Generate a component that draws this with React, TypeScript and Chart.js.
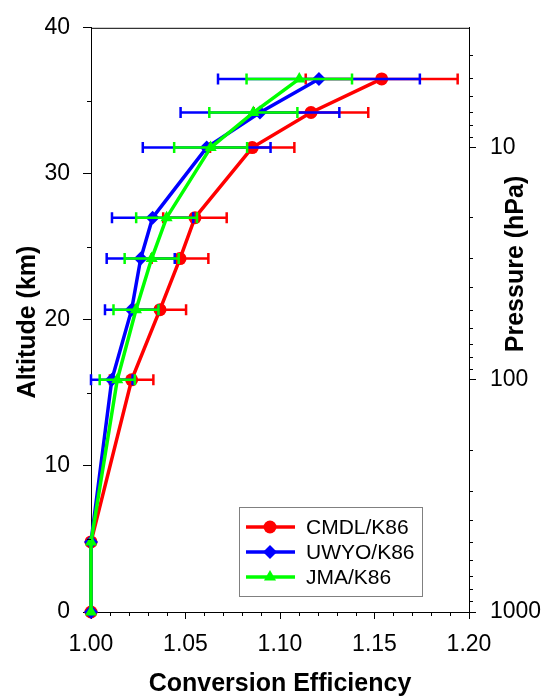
import React, { useEffect, useRef } from "react";
import { Chart, registerables } from "chart.js";

Chart.register(...registerables);

// ---------------- data ----------------
const altitudeKm = [0, 4.8, 15.9, 20.7, 24.2, 27.0, 31.8, 34.2, 36.5];

const cmdlValues = [1.0, 1.0, 1.0215, 1.0365, 1.0471, 1.055, 1.0853, 1.1164, 1.1538];
const cmdlErrors = [0, 0, 0.0115, 0.0138, 0.015, 0.0168, 0.0223, 0.0303, 0.0402];

const uwyoValues = [1.0, 1.0, 1.011, 1.0215, 1.0263, 1.0326, 1.0612, 1.0894, 1.1206];
const uwyoErrors = [0, 0, 0.011, 0.0141, 0.018, 0.0215, 0.0338, 0.042, 0.0534];

const jmaValues = [1.0, 1.0, 1.0139, 1.0238, 1.0321, 1.04, 1.0633, 1.0859, 1.1102];
const jmaErrors = [0, 0, 0.0093, 0.0119, 0.0143, 0.0161, 0.0193, 0.0233, 0.0279];

const seriesNames = ["CMDL/K86", "UWYO/K86", "JMA/K86"];

const xTickValues = [1.0, 1.05, 1.1, 1.15, 1.2];
const xMinorTicks = [1.01, 1.02, 1.03, 1.04, 1.06, 1.07, 1.08, 1.09, 1.11, 1.12, 1.13, 1.14, 1.16, 1.17, 1.18, 1.19];
const yTickValues = [0, 10, 20, 30, 40];
const yMinorTicks = [5, 15, 25, 35];
const pTickValues = [10, 100, 1000];
const pMinorTicks = [4, 5, 6, 7, 8, 9, 20, 30, 40, 50, 60, 70, 80, 90, 200, 300, 400, 500, 600, 700, 800, 900];
const pressureTop = 3.05;
const pressureBottom = 1000;

// ---------------- styles ----------------
const FONT = 'Arial, "Liberation Sans", sans-serif';
const RED = "#ff0000";
const BLUE = "#0000ff";
const GREEN = "#00ff00";

const errorsBySeries = [cmdlErrors, uwyoErrors, jmaErrors];

function drawMarker(ctx: CanvasRenderingContext2D, style: string, r: number, x: number, y: number) {
  ctx.beginPath();
  if (style === "circle") {
    ctx.arc(x, y, r, 0, Math.PI * 2);
  } else if (style === "rectRot") {
    ctx.moveTo(x, y - r);
    ctx.lineTo(x + r, y);
    ctx.lineTo(x, y + r);
    ctx.lineTo(x - r, y);
    ctx.closePath();
  } else {
    const a = (2 * Math.PI) / 3;
    ctx.moveTo(x, y - r);
    ctx.lineTo(x + Math.sin(a) * r, y - Math.cos(a) * r);
    ctx.lineTo(x + Math.sin(2 * a) * r, y - Math.cos(2 * a) * r);
    ctx.closePath();
  }
  ctx.fill();
}

const errorBarPlugin = {
  id: "errorBars",
  beforeDatasetDraw(chart: any, args: any) {
    const idx = args.index;
    const errs = errorsBySeries[idx];
    if (!errs) return;
    const ds = chart.data.datasets[idx];
    const xs = chart.scales.x;
    const ys = chart.scales.y;
    const ctx = chart.ctx;
    ctx.save();
    ctx.strokeStyle = ds.borderColor;
    ctx.lineWidth = 2.5;
    ctx.lineCap = "butt";
    ds.data.forEach((pt: any, i: number) => {
      const e = errs[i];
      if (!e) return;
      const y = ys.getPixelForValue(pt.y);
      const x1 = xs.getPixelForValue(pt.x - e);
      const x2 = xs.getPixelForValue(pt.x + e);
      ctx.beginPath();
      ctx.moveTo(x1, y);
      ctx.lineTo(x2, y);
      ctx.moveTo(x1, y - 5.5);
      ctx.lineTo(x1, y + 5.5);
      ctx.moveTo(x2, y - 5.5);
      ctx.lineTo(x2, y + 5.5);
      ctx.stroke();
    });
    ctx.restore();
  },
};

const decorPlugin = {
  id: "decor",
  afterDraw(chart: any) {
    const ctx = chart.ctx;
    const { left, right, top, bottom } = chart.chartArea;
    const xs = chart.scales.x;
    const ys = chart.scales.y;
    const ps = chart.scales.p;
    ctx.save();
    ctx.strokeStyle = "#000";
    ctx.lineWidth = 1;
    // top border
    ctx.beginPath();
    ctx.moveTo(left, top + 0.5);
    ctx.lineTo(right, top + 0.5);
    ctx.stroke();
    // minor ticks
    ctx.beginPath();
    xMinorTicks.forEach((v) => {
      const x = Math.round(xs.getPixelForValue(v)) + 0.5;
      ctx.moveTo(x, bottom);
      ctx.lineTo(x, bottom + 4);
    });
    yMinorTicks.forEach((v) => {
      const y = Math.round(ys.getPixelForValue(v)) + 0.5;
      ctx.moveTo(left, y);
      ctx.lineTo(left - 4, y);
    });
    pMinorTicks.forEach((v) => {
      const y = Math.round(ps.getPixelForValue(v)) + 0.5;
      ctx.moveTo(right, y);
      ctx.lineTo(right + 4, y);
    });
    ctx.stroke();

    // axis titles
    ctx.fillStyle = "#000";
    ctx.font = `bold 25px ${FONT}`;
    ctx.textAlign = "center";
    ctx.textBaseline = "middle";
    ctx.fillText("Conversion Efficiency", 280, 684);
    ctx.save();
    ctx.translate(28, 322);
    ctx.rotate(-Math.PI / 2);
    ctx.fillText("Altitude (km)", 0, 0);
    ctx.restore();
    ctx.save();
    ctx.translate(516, 264);
    ctx.rotate(-Math.PI / 2);
    ctx.fillText("Pressure (hPa)", 0, 0);
    ctx.restore();

    // legend
    const bx = 239, by = 507, bw = 183, bh = 89;
    ctx.fillStyle = "#fff";
    ctx.fillRect(bx, by, bw, bh);
    ctx.strokeStyle = "#808080";
    ctx.lineWidth = 1;
    ctx.strokeRect(bx + 0.5, by + 0.5, bw, bh);
    const rows = [527, 552, 577];
    chart.data.datasets.forEach((ds: any, i: number) => {
      const y = rows[i];
      ctx.strokeStyle = ds.borderColor;
      ctx.lineWidth = 3.5;
      ctx.beginPath();
      ctx.moveTo(246, y);
      ctx.lineTo(295, y);
      ctx.stroke();
      ctx.fillStyle = ds.backgroundColor;
      drawMarker(ctx, ds.pointStyle, ds.pointRadius, 270, y);
      ctx.fillStyle = "#000";
      ctx.font = `21px ${FONT}`;
      ctx.textAlign = "left";
      ctx.textBaseline = "middle";
      ctx.fillText(seriesNames[i], 306, y + 1);
    });
    ctx.restore();
  },
};

function makePoints(values: number[]) {
  return values.map((v, i) => ({ x: v, y: altitudeKm[i] }));
}

export default function App() {
  const ref = useRef<HTMLCanvasElement>(null);

  useEffect(() => {
    if (!ref.current) return;
    const tickFont = { family: FONT, size: 23 };
    const chart = new Chart(ref.current, {
      type: "scatter",
      data: {
        datasets: [
          {
            label: seriesNames[0],
            data: makePoints(cmdlValues),
            showLine: true,
            borderColor: RED,
            backgroundColor: RED,
            borderWidth: 3.5,
            pointStyle: "circle",
            pointRadius: 6.5,
            pointBorderWidth: 0,
            clip: false,
            order: 3,
          },
          {
            label: seriesNames[1],
            data: makePoints(uwyoValues),
            showLine: true,
            borderColor: BLUE,
            backgroundColor: BLUE,
            borderWidth: 3.5,
            pointStyle: "rectRot",
            pointRadius: 7,
            pointBorderWidth: 0,
            clip: false,
            order: 2,
          },
          {
            label: seriesNames[2],
            data: makePoints(jmaValues),
            showLine: true,
            borderColor: GREEN,
            backgroundColor: GREEN,
            borderWidth: 3.5,
            pointStyle: "triangle",
            pointRadius: 7,
            pointBorderWidth: 0,
            clip: false,
            order: 1,
          },
        ] as any,
      },
      options: {
        responsive: false,
        animation: false,
        layout: { padding: { top: 25, left: 0, right: 0, bottom: 0 } },
        plugins: { legend: { display: false }, tooltip: { enabled: false } },
        scales: {
          x: {
            type: "linear",
            position: "bottom",
            min: 1.0,
            max: 1.2,
            afterBuildTicks: (s: any) => {
              s.ticks = xTickValues.map((v) => ({ value: v }));
            },
            afterFit: (s: any) => {
              s.height = 84;
            },
            ticks: {
              font: tickFont,
              color: "#000",
              padding: 12,
              maxRotation: 0,
              autoSkip: false,
              callback: (v: any) => Number(v).toFixed(2),
            },
            grid: { drawOnChartArea: false, drawTicks: true, tickLength: 7, color: "#000", tickWidth: 1 },
            border: { display: true, color: "#000", width: 1 },
          },
          y: {
            type: "linear",
            position: "left",
            min: 0,
            max: 40,
            afterBuildTicks: (s: any) => {
              s.ticks = yTickValues.map((v) => ({ value: v }));
            },
            afterFit: (s: any) => {
              s.width = 91;
            },
            ticks: { font: tickFont, color: "#000", padding: 13, autoSkip: false },
            grid: { drawOnChartArea: false, drawTicks: true, tickLength: 8, color: "#000" },
            border: { display: true, color: "#000", width: 1 },
          },
          p: {
            type: "logarithmic",
            position: "right",
            min: pressureTop,
            max: pressureBottom,
            reverse: true,
            afterBuildTicks: (s: any) => {
              s.ticks = pTickValues.map((v) => ({ value: v }));
            },
            afterFit: (s: any) => {
              s.width = 76;
            },
            ticks: {
              font: tickFont,
              color: "#000",
              padding: 14,
              autoSkip: false,
              callback: (v: any) => String(v),
            },
            grid: { drawOnChartArea: false, drawTicks: true, tickLength: 7, color: "#000" },
            border: { display: true, color: "#000", width: 1 },
          },
        },
      } as any,
      plugins: [errorBarPlugin, decorPlugin],
    });
    return () => chart.destroy();
  }, []);

  return (
    <div style={{ position: "fixed", left: 0, top: 0, width: 545, height: 696, background: "#fff" }}>
      <canvas ref={ref} width={545} height={696} style={{ display: "block", width: 545, height: 696 }} />
    </div>
  );
}
